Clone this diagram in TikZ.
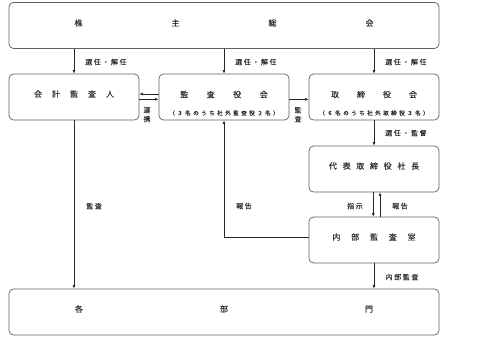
\documentclass[tikz,border=0pt]{standalone}
\usepackage{fontspec}
\setmainfont{Noto Sans CJK JP}[FakeBold=0.12]
\usetikzlibrary{arrows.meta}
\ExplSyntaxOn
\NewDocumentCommand\spaced{m m}{\tl_map_inline:nn {#2}{##1\hspace{#1}}\kern-#1\relax}
\ExplSyntaxOff
\definecolor{boxc}{gray}{0.38}
\definecolor{linec}{gray}{0.15}
\definecolor{txt}{gray}{0.18}
\begin{document}
\begin{tikzpicture}[x=1pt,y=-1pt,
  box/.style={draw=boxc, rounded corners=4.5pt, line width=0.7pt, inner sep=0pt,
              minimum width=130pt, minimum height=46pt},
  widebox/.style={box, minimum width=430pt},
  ttl/.style={font=\fontsize{8}{9}\selectfont, text=txt, inner sep=0pt},
  subt/.style={font=\fontsize{5.6}{6}\selectfont, text=txt, inner sep=0pt},
  lbl/.style={font=\fontsize{7}{9}\selectfont, text=txt, inner sep=0pt, align=center},
  arr/.style={draw=linec, line width=0.6pt, -{Latex[length=3.5pt,width=2.8pt]}},
  ln/.style={draw=linec, line width=0.6pt}]
\useasboundingbox (0,0) rectangle (489,340);
% boxes
\node[widebox] (top) at (224,25.5) {};
\node[box] (kaikei) at (74,97) {};
\node[box] (kansa) at (224,97) {};
\node[box] (tori) at (374,97) {};
\node[box] (daihyo) at (374,169) {};
\node[box] (naibu) at (374,240) {};
\node[widebox] (kakubu) at (224,312) {};
% box texts
\node[ttl] (top-t) at ([yshift=2.5pt]top.center) {\spaced{89pt}{株主総会}};
\node[ttl] (kaikei-t) at ([yshift=3pt]kaikei.center) {\spaced{10pt}{会計監査人}};
\node[ttl] (kansa-t) at ([yshift=2.5pt]kansa.center) {\spaced{18.5pt}{監査役会}};
\node[subt] (kansa-s) at ([yshift=-16pt]kansa.center) {\spaced{2.4pt}{（３名のうち社外監査役２名）}};
\node[ttl] (tori-t) at ([yshift=2.5pt]tori.center) {\spaced{18pt}{取締役会}};
\node[subt] (tori-s) at ([yshift=-16pt]tori.center) {\spaced{2.4pt}{（６名のうち社外取締役３名）}};
\node[ttl] (daihyo-t) at ([yshift=3pt]daihyo.center) {\spaced{5.7pt}{代表取締役社長}};
\node[ttl] (naibu-t) at ([yshift=3pt]naibu.center) {\spaced{10.8pt}{内部監査室}};
\node[ttl] (kakubu-t) at ([yshift=3pt]kakubu.center) {\spaced{137pt}{各部門}};
% connectors
\draw[arr] (top.south -| kaikei.center) -- (kaikei.north);
\draw[arr] (top.south -| kansa.center) -- (kansa.north);
\draw[arr] (top.south -| tori.center) -- (tori.north);
\draw[arr] ([yshift=3pt]kansa.west) -- ([yshift=3pt]kaikei.east);
\draw[arr] ([yshift=-2.3pt]kaikei.east) -- ([yshift=-2.3pt]kansa.west);
\draw[arr] ([yshift=-2.3pt]kansa.east) -- ([yshift=-2.3pt]tori.west);
\draw[arr] (tori.south) -- (daihyo.north);
\draw[arr] ([xshift=-0.7pt]daihyo.south) -- ([xshift=-0.7pt]naibu.north);
\draw[arr] ([xshift=6pt]naibu.north) -- ([xshift=6pt]daihyo.south);
\draw[arr] ([yshift=3pt]naibu.west) -| (kansa.south);
\draw[arr] (kaikei.south) -- (kaikei.south |- kakubu.north);
\draw[arr] (naibu.south) -- (naibu.south |- kakubu.north);
% labels
\node[lbl, anchor=west] (l1) at (85,62) {\spaced{1.6pt}{選任・解任}};
\node[lbl, anchor=west] (l2) at (235,62) {\spaced{1.6pt}{選任・解任}};
\node[lbl, anchor=west] (l3) at (385,62) {\spaced{1.6pt}{選任・解任}};
\node[lbl] (l-renkei) at (147,114.5) {連\\携};
\node[lbl] (l-kansa1) at (298,114.5) {監\\査};
\node[lbl, anchor=west] (l4) at (385,133) {\spaced{1.6pt}{選任・監督}};
\node[lbl] (l-kansa2) at (94,206) {\spaced{1.6pt}{監査}};
\node[lbl] (l-hokoku1) at (244,206) {\spaced{1.6pt}{報告}};
\node[lbl] (l-shiji) at (355,206) {\spaced{1.6pt}{指示}};
\node[lbl] (l-hokoku2) at (400,206) {\spaced{1.6pt}{報告}};
\node[lbl] (l-naibu) at (402,277) {\spaced{1.6pt}{内部監査}};
\end{tikzpicture}
\end{document}
